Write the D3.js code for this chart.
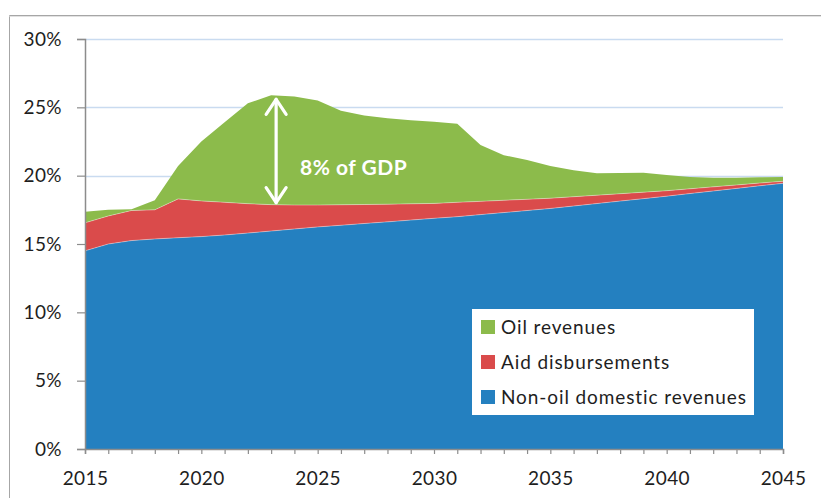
<!DOCTYPE html>
<html>
<head>
<meta charset="utf-8">
<script src="https://cdn.jsdelivr.net/npm/d3@7/dist/d3.min.js"></script>
<style>
  html, body { margin: 0; padding: 0; background: #fff; }
  svg { display: block; }
  text { font-family: Lato, "Open Sans", sans-serif; }
</style>
</head>
<body>
<svg id="chart" width="821" height="498"></svg>
<script>
// Government revenue projections, % of GDP
const years = d3.range(2015, 2046);
const nonOil = [14.5, 15.0, 15.25, 15.37, 15.46, 15.54, 15.66, 15.8, 15.95, 16.1,
  16.25, 16.37, 16.5, 16.62, 16.75, 16.88, 17.0, 17.15, 17.3, 17.45,
  17.6, 17.78, 17.96, 18.14, 18.32, 18.5, 18.69, 18.88, 19.07, 19.26, 19.44];
const aid = [2.05, 2.05, 2.2, 2.13, 2.84, 2.61, 2.39, 2.15, 1.93, 1.75,
  1.6, 1.5, 1.39, 1.29, 1.19, 1.09, 1.05, 0.97, 0.9, 0.82,
  0.75, 0.68, 0.61, 0.54, 0.47, 0.4, 0.35, 0.3, 0.25, 0.2, 0.15];
const oil = [0.81, 0.45, 0.1, 0.7, 2.4, 4.35, 5.85, 7.35, 8.0, 7.95,
  7.65, 6.88, 6.51, 6.29, 6.11, 5.98, 5.75, 4.12, 3.3, 2.88,
  2.35, 1.94, 1.6, 1.52, 1.43, 1.15, 0.86, 0.67, 0.53, 0.42, 0.32];

const seriesKeys = ["nonOil", "aid", "oil"];
const seriesNames = {
  oil: "Oil revenues",
  aid: "Aid disbursements",
  nonOil: "Non-oil domestic revenues"
};
const colors = { nonOil: "#2480c0", aid: "#da4b4b", oil: "#8cbb4b" };
const yTicks = [0, 5, 10, 15, 20, 25, 30];
const xLabels = [2015, 2020, 2025, 2030, 2035, 2040, 2045];
const annotationYear = 2023;
const annotationText = "8% of GDP";

const rows = years.map((yr, i) => ({ year: yr, nonOil: nonOil[i], aid: aid[i], oil: oil[i] }));

const svg = d3.select("#chart");

const x = d3.scaleLinear().domain([2015, 2045]).range([85, 783]);
const y = d3.scaleLinear().domain([0, 30]).range([449, 39]);

// outer frame of the chart object
svg.append("path")
  .attr("d", "M9.5,498 V15.5 H821")
  .attr("fill", "none")
  .attr("stroke", "#a6a6a6")
  .attr("stroke-width", 1);
svg.append("line")
  .attr("x1", 9.5).attr("x2", 821).attr("y1", 16.5).attr("y2", 16.5)
  .attr("stroke", "#e2e2e2").attr("stroke-width", 1);

// horizontal gridlines
svg.append("g")
  .selectAll("line")
  .data(yTicks.filter(d => d > 0))
  .join("line")
  .attr("x1", x(2015)).attr("x2", x(2045))
  .attr("y1", d => Math.round(y(d)) + 0.5)
  .attr("y2", d => Math.round(y(d)) + 0.5)
  .attr("stroke", "#c9dbf0")
  .attr("stroke-width", 1.5);

// stacked areas
const stack = d3.stack().keys(seriesKeys);
const layers = stack(rows);
const area = d3.area()
  .x(d => x(d.data.year))
  .y0(d => y(d[0]))
  .y1(d => y(d[1]));

svg.append("g")
  .selectAll("path")
  .data(layers)
  .join("path")
  .attr("d", area)
  .attr("fill", d => colors[d.key]);

// light seams along the upper edges of the lower layers
const topLine = d3.line().x(d => x(d.data.year)).y(d => y(d[1]));
svg.append("g")
  .selectAll("path")
  .data(layers.slice(0, 2))
  .join("path")
  .attr("d", topLine)
  .attr("fill", "none")
  .attr("stroke", "#ffffff")
  .attr("stroke-opacity", 0.45)
  .attr("stroke-width", 0.8);

// y axis
const yAxis = d3.axisLeft(y)
  .tickValues(yTicks)
  .tickSize(8)
  .tickPadding(15)
  .tickFormat(d => d + "%");
const gy = svg.append("g")
  .attr("transform", `translate(${x(2015)},0)`)
  .call(yAxis);
gy.select(".domain").attr("stroke", "#8c8c8c").attr("stroke-width", 1.5);
gy.selectAll(".tick line").attr("stroke", "#8c8c8c").attr("stroke-width", 1.2);
gy.selectAll(".tick text")
  .attr("font-size", 19)
  .attr("fill", "#1e1e1e")
  .attr("letter-spacing", 0.4)
  .attr("font-family", "Lato, sans-serif");

// x axis: yearly ticks, labels every five years
const xAxis = d3.axisBottom(x)
  .tickValues(years)
  .tickSize(5)
  .tickPadding(18)
  .tickFormat(d => xLabels.includes(d) ? String(d) : "");
const gx = svg.append("g")
  .attr("transform", `translate(0,${y(0)})`)
  .call(xAxis);
gx.select(".domain").attr("stroke", "#8c8c8c").attr("stroke-width", 1.5);
gx.selectAll(".tick line").attr("stroke", "#8c8c8c").attr("stroke-width", 1.2);
gx.selectAll(".tick text")
  .attr("font-size", 19)
  .attr("fill", "#1e1e1e")
  .attr("letter-spacing", 0.4)
  .attr("font-family", "Lato, sans-serif");

// double-headed arrow spanning the oil layer
const ai = years.indexOf(annotationYear);
const ax = x(annotationYear) + 5;
const aTop = y(nonOil[ai] + aid[ai] + oil[ai]) + 4;
const aBot = y(nonOil[ai] + aid[ai]) - 2;
const ann = svg.append("g")
  .attr("stroke", "#ffffff")
  .attr("stroke-width", 3.2)
  .attr("fill", "none")
  .attr("stroke-linecap", "round")
  .attr("stroke-linejoin", "round");
ann.append("line").attr("x1", ax).attr("x2", ax).attr("y1", aTop).attr("y2", aBot);
ann.append("path").attr("d", `M${ax - 10},${aTop + 15} L${ax},${aTop} L${ax + 10},${aTop + 15}`);
ann.append("path").attr("d", `M${ax - 10},${aBot - 15} L${ax},${aBot} L${ax + 10},${aBot - 15}`);

svg.append("text")
  .attr("x", 300)
  .attr("y", y(nonOil[ai] + aid[ai]) - 30)
  .attr("font-size", 21)
  .attr("font-weight", 700)
  .attr("letter-spacing", 0.5)
  .attr("fill", "#ffffff")
  .text(annotationText);

// legend
const legendOrder = ["oil", "aid", "nonOil"];
const lg = svg.append("g").attr("transform", "translate(472,309)");
lg.append("rect")
  .attr("width", 282).attr("height", 106)
  .attr("fill", "#ffffff");
const item = lg.selectAll("g.item")
  .data(legendOrder)
  .join("g")
  .attr("class", "item")
  .attr("transform", (d, i) => `translate(9,${18 + i * 35})`);
item.append("rect")
  .attr("x", 0).attr("y", -7)
  .attr("width", 14).attr("height", 14)
  .attr("fill", d => colors[d]);
item.append("text")
  .attr("x", 20)
  .attr("y", 7)
  .attr("font-size", 19)
  .attr("letter-spacing", 0.9)
  .attr("fill", "#1e1e1e")
  .text(d => seriesNames[d]);
</script>
</body>
</html>
